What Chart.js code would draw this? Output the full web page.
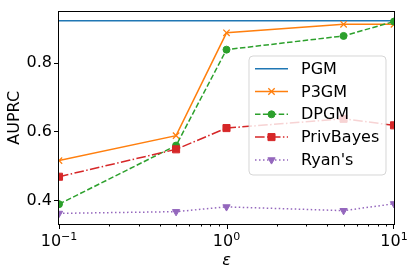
<!DOCTYPE html>
<html>
<head>
<meta charset="utf-8">
<script src="https://cdn.jsdelivr.net/npm/chart.js@4.4.1/dist/chart.umd.min.js"></script>
<style>
  html, body { margin: 0; padding: 0; background: #fff; }
  #c { display: block; }
</style>
</head>
<body>
<canvas id="c" width="415" height="276"></canvas>
<script>
// values
const epsilons = [0.1, 0.5, 1, 5, 10];
const pgm = [0.924, 0.924, 0.924, 0.924, 0.924];
const p3gm = [0.516, 0.589, 0.889, 0.914, 0.914];
const dpgm = [0.389, 0.56, 0.84, 0.88, 0.922];
const privBayes = [0.469, 0.549, 0.611, 0.638, 0.619];
const ryans = [0.362, 0.367, 0.381, 0.37, 0.39];

const yTicks = [0.4, 0.6, 0.8];
const xMajor = [0.1, 1, 10];
const xExponents = ['\u22121', '0', '1'];

const FONT = '"DejaVu Sans", sans-serif';

const pts = vals => epsilons.map((e, i) => ({ x: e, y: vals[i] }));

const datasets = [
  { label: 'PGM', data: pts(pgm), borderColor: '#1f77b4', backgroundColor: '#1f77b4',
    pointRadius: 0, borderDash: [], order: 5 },
  { label: 'P3GM', data: pts(p3gm), borderColor: '#ff7f0e', backgroundColor: '#ff7f0e',
    pointStyle: 'crossRot', pointRadius: 4.5, pointBorderWidth: 1.3, borderDash: [], order: 4 },
  { label: 'DPGM', data: pts(dpgm), borderColor: '#2ca02c', backgroundColor: '#2ca02c',
    pointStyle: 'circle', pointRadius: 3.5, pointBorderWidth: 1, borderDash: [5.5, 2.4], order: 3 },
  { label: 'PrivBayes', data: pts(privBayes), borderColor: '#d62728', backgroundColor: '#d62728',
    pointStyle: 'rect', pointRadius: 5, pointBorderWidth: 1, borderDash: [9.6, 2.4, 1.5, 2.4], order: 2 },
  { label: "Ryan's", data: pts(ryans), borderColor: '#9467bd', backgroundColor: '#9467bd',
    pointStyle: 'triangle', pointRotation: 180, pointRadius: 4.2, pointBorderWidth: 1,
    borderDash: [1.5, 2.5], order: 1 }
];
datasets.forEach(d => {
  d.borderWidth = 1.5;
  d.tension = 0;
  d.fill = false;
  d.clip = 0;
  d.pointHoverRadius = d.pointRadius;
});

// frame, log x ticks with superscript labels, axis titles
const axesPlugin = {
  id: 'axesPlugin',
  afterDraw(chart) {
    const { ctx, chartArea: a, scales } = chart;
    const xs = scales.x;
    ctx.save();
    ctx.strokeStyle = '#000';
    ctx.lineWidth = 1;

    // minor + major ticks on the log axis
    for (const d of [0.1, 1]) {
      for (let m = 1; m <= 9; m++) {
        const v = d * m;
        const px = Math.round(xs.getPixelForValue(v)) + 0.5;
        const len = m === 1 ? 5 : 2.5;
        ctx.beginPath();
        ctx.moveTo(px, a.bottom);
        ctx.lineTo(px, a.bottom + len);
        ctx.stroke();
      }
    }
    const pxEnd = Math.round(xs.getPixelForValue(10)) - 0.5;
    ctx.beginPath();
    ctx.moveTo(pxEnd, a.bottom);
    ctx.lineTo(pxEnd, a.bottom + 5);
    ctx.stroke();

    // 10^n labels
    ctx.fillStyle = '#000';
    ctx.textBaseline = 'alphabetic';
    ctx.textAlign = 'left';
    xMajor.forEach((v, i) => {
      const px = xs.getPixelForValue(v);
      ctx.font = '16px ' + FONT;
      const wb = ctx.measureText('10').width;
      ctx.font = '11px ' + FONT;
      const ws = ctx.measureText(xExponents[i]).width;
      const x0 = px - (wb + ws) / 2;
      ctx.font = '16px ' + FONT;
      ctx.fillText('10', x0, 246);
      ctx.font = '11px ' + FONT;
      ctx.fillText(xExponents[i], x0 + wb, 240);
    });

    // x title
    ctx.font = 'italic 16px ' + FONT;
    ctx.textAlign = 'center';
    ctx.fillText('\u03b5', xs.getPixelForValue(1), 265);

    // y title
    ctx.save();
    ctx.translate(19, (a.top + a.bottom) / 2);
    ctx.rotate(-Math.PI / 2);
    ctx.font = '16px ' + FONT;
    ctx.textAlign = 'center';
    ctx.fillText('AUPRC', 0, 0);
    ctx.restore();

    // frame
    ctx.strokeRect(Math.round(a.left) - 0.5, Math.round(a.top) - 0.5,
      Math.round(a.right - a.left) + 1, Math.round(a.bottom - a.top) + 1);
    ctx.restore();
  }
};

// legend box inside the axes, upper right area
const legendPlugin = {
  id: 'legendBox',
  afterDraw(chart) {
    const ctx = chart.ctx;
    const bx = 249, by = 56, bw = 137, bh = 119, r = 4;
    ctx.save();
    ctx.beginPath();
    ctx.moveTo(bx + r, by);
    ctx.arcTo(bx + bw, by, bx + bw, by + bh, r);
    ctx.arcTo(bx + bw, by + bh, bx, by + bh, r);
    ctx.arcTo(bx, by + bh, bx, by, r);
    ctx.arcTo(bx, by, bx + bw, by, r);
    ctx.closePath();
    ctx.fillStyle = 'rgba(255,255,255,0.8)';
    ctx.fill();
    ctx.strokeStyle = 'rgba(204,204,204,0.8)';
    ctx.lineWidth = 1;
    ctx.stroke();

    datasets.forEach((d, i) => {
      const y = 68.7 + i * 22.8;
      ctx.strokeStyle = d.borderColor;
      ctx.fillStyle = d.backgroundColor;
      ctx.lineWidth = 1.5;
      ctx.setLineDash(d.borderDash);
      ctx.beginPath();
      ctx.moveTo(255, y);
      ctx.lineTo(288, y);
      ctx.stroke();
      ctx.setLineDash([]);
      if (d.pointRadius > 0) {
        ctx.lineWidth = d.pointBorderWidth;
        Chart.helpers.drawPoint(ctx, {
          pointStyle: d.pointStyle,
          radius: d.pointRadius,
          rotation: d.pointRotation || 0,
          borderWidth: d.pointBorderWidth
        }, 271.5, y);
      }
      ctx.fillStyle = '#000';
      ctx.font = '16px ' + FONT;
      ctx.textAlign = 'left';
      ctx.textBaseline = 'middle';
      ctx.fillText(d.label, 301, y + 1);
    });
    ctx.restore();
  }
};

new Chart(document.getElementById('c'), {
  type: 'line',
  data: { datasets },
  options: {
    responsive: false,
    animation: false,
    devicePixelRatio: 1,
    layout: { padding: { top: 7, right: 21, left: 0, bottom: 0 } },
    plugins: {
      legend: { display: false },
      tooltip: { enabled: false },
      title: { display: false }
    },
    scales: {
      x: {
        type: 'logarithmic',
        min: 0.1,
        max: 10,
        ticks: { display: false },
        grid: { display: false },
        border: { display: false },
        afterFit: s => { s.height = 52; }
      },
      y: {
        type: 'linear',
        min: 0.331,
        max: 0.951,
        afterBuildTicks: s => { s.ticks = yTicks.map(v => ({ value: v })); },
        ticks: {
          color: '#000',
          padding: 2,
          font: { family: FONT, size: 16 },
          callback: v => v.toFixed(1)
        },
        grid: { drawOnChartArea: false, drawTicks: true, tickLength: 5, tickColor: '#000', tickWidth: 1 },
        border: { display: false },
        afterFit: s => { s.width = 59; }
      }
    }
  },
  plugins: [axesPlugin, legendPlugin]
});
</script>
</body>
</html>
